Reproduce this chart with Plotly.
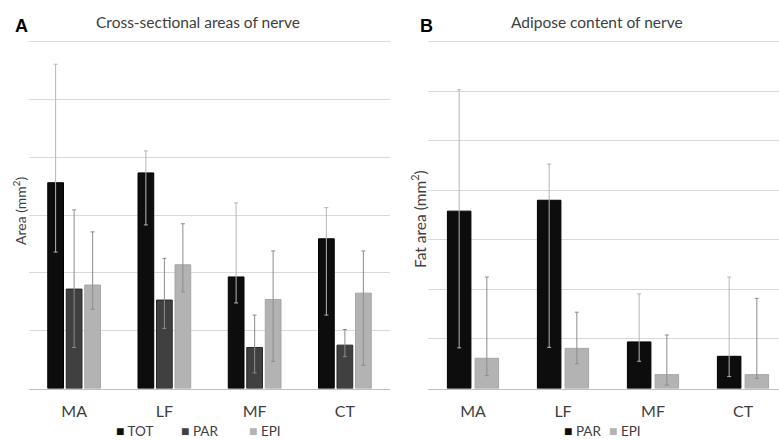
import plotly.graph_objects as go

categories = ["MA", "LF", "MF", "CT"]

# Panel A: cross-sectional areas (grid units, no tick labels shown)
a_tot = [3.56, 3.73, 1.93, 2.59]
a_tot_plus = [2.05, 0.38, 1.28, 0.54]
a_tot_minus = [1.20, 0.90, 0.45, 1.32]
a_par = [1.72, 1.53, 0.71, 0.75]
a_par_plus = [1.37, 0.72, 0.56, 0.27]
a_par_minus = [1.01, 0.49, 0.44, 0.20]
a_epi = [1.79, 2.14, 1.54, 1.65]
a_epi_plus = [0.92, 0.71, 0.84, 0.73]
a_epi_minus = [0.42, 0.47, 1.07, 1.25]

# Panel B: adipose content
b_par = [3.58, 3.80, 0.94, 0.65]
b_par_plus = [2.45, 0.73, 0.97, 1.60]
b_par_minus = [2.76, 2.97, 0.39, 0.41]
b_epi = [0.61, 0.81, 0.28, 0.28]
b_epi_plus = [1.64, 0.73, 0.80, 1.54]
b_epi_minus = [0.35, 0.31, 0.21, 0.08]

series_a = ["TOT", "PAR", "EPI"]
series_b = ["PAR", "EPI"]

C_TOT = "#0d0d0d"
C_PAR = "#404040"
C_EPI = "#b3b3b3"
FONT = "Lato"
TXT = "#404040"

W, H = 779, 440


def err(plus, minus, color):
    return dict(type="data", symmetric=False, array=plus, arrayminus=minus,
                color=color, thickness=1, width=2)


fig = go.Figure()

fig.add_trace(go.Bar(x=categories, y=a_tot, name=series_a[0], xaxis="x", yaxis="y",
                     marker=dict(color=C_TOT, line=dict(color="#000000", width=1)),
                     error_y=err(a_tot_plus, a_tot_minus, "#b5b5b5")))
fig.add_trace(go.Bar(x=categories, y=a_par, name=series_a[1], xaxis="x", yaxis="y",
                     marker=dict(color=C_PAR, line=dict(color="#262626", width=1)),
                     error_y=err(a_par_plus, a_par_minus, "#8c8c8c")))
fig.add_trace(go.Bar(x=categories, y=a_epi, name=series_a[2], xaxis="x", yaxis="y",
                     marker=dict(color=C_EPI, line=dict(color="#a6a6a6", width=1)),
                     error_y=err(a_epi_plus, a_epi_minus, "#8c8c8c")))

fig.add_trace(go.Bar(x=categories, y=b_par, name=series_b[0], xaxis="x2", yaxis="y2",
                     marker=dict(color=C_TOT, line=dict(color="#000000", width=1)),
                     error_y=err(b_par_plus, b_par_minus, "#b5b5b5")))
fig.add_trace(go.Bar(x=categories, y=b_epi, name=series_b[1], xaxis="x2", yaxis="y2",
                     marker=dict(color=C_EPI, line=dict(color="#a6a6a6", width=1)),
                     error_y=err(b_epi_plus, b_epi_minus, "#8c8c8c")))

# plot areas: baseline at 388.5 px, top gridline at 41.7 px (extra 3 px headroom
# so the top gridline is not clipped at the plot edge)
BASE, TOP, EXTRA = 388.5, 41.7, 3.0
unit_a = (BASE - TOP) / 6
unit_b = (BASE - TOP) / 7
ydom = [1 - BASE / H, 1 - (TOP - EXTRA) / H]

xcommon = dict(type="category", showgrid=False, showline=True, linecolor="#bfbfbf",
               linewidth=1, ticks="", tickfont=dict(family=FONT, size=16, color="#404040"),
               ticklabelstandoff=8, fixedrange=True, automargin=False)
ycommon = dict(showgrid=True, gridcolor="#d9d9d9", gridwidth=1, showticklabels=False,
               ticks="", zeroline=False, tick0=0, dtick=1, fixedrange=True, automargin=False)

annotations = [
    dict(text="<b>A</b>", x=13 / W, y=1 - 26 / H, xanchor="left",
         font=dict(family="Liberation Sans", size=18, color="#000000")),
    dict(text="Cross-sectional areas of nerve", x=198 / W, y=1 - 22 / H, xanchor="center",
         font=dict(family=FONT, size=15.5, color=TXT)),
    dict(text="<b>B</b>", x=418 / W, y=1 - 26 / H, xanchor="left",
         font=dict(family="Liberation Sans", size=18, color="#000000")),
    dict(text="Adipose content of nerve", x=597 / W, y=1 - 22 / H, xanchor="center",
         font=dict(family=FONT, size=15.5, color=TXT)),
    dict(text="Area (mm<sup>2</sup>)", x=20 / W, y=1 - 211 / H, xanchor="center",
         textangle=-90, font=dict(family=FONT, size=14, color=TXT)),
    dict(text="Fat area (mm<sup>2</sup>)", x=418 / W, y=1 - 219 / H, xanchor="center",
         textangle=-90, font=dict(family=FONT, size=15.5, color=TXT)),
]

# legend entries (swatch glyph + series name)
LEG_Y = 430
legend_a_x = [114, 179, 247]
legend_a_col = [C_TOT, C_PAR, C_EPI]
for name, xpx, col in zip(series_a, legend_a_x, legend_a_col):
    annotations.append(dict(
        text=f"<span style='color:{col};font-size:14px'>■</span> {name}", x=xpx / W,
        y=1 - LEG_Y / H, xanchor="left", font=dict(family=FONT, size=13.5, color=TXT)))
legend_b_x = [562, 607]
legend_b_col = [C_TOT, C_EPI]
for name, xpx, col in zip(series_b, legend_b_x, legend_b_col):
    annotations.append(dict(
        text=f"<span style='color:{col};font-size:14px'>■</span> {name}", x=xpx / W,
        y=1 - LEG_Y / H, xanchor="left", font=dict(family=FONT, size=13.5, color=TXT)))

for a in annotations:
    a.update(xref="paper", yref="paper", yanchor="middle", showarrow=False)

fig.update_layout(
    width=W, height=H,
    margin=dict(l=0, r=0, t=0, b=0, pad=0),
    paper_bgcolor="white", plot_bgcolor="white",
    barmode="group",
    showlegend=False,
    font=dict(family=FONT, color=TXT),
    xaxis=dict(domain=[29 / W, 390 / W], range=[-0.5, 3.5], anchor="y", **xcommon),
    yaxis=dict(domain=ydom, range=[0, 6 + EXTRA / unit_a], anchor="x", **ycommon),
    xaxis2=dict(domain=[428 / W, 1], range=[-0.5, 3.4], anchor="y2", **xcommon),
    yaxis2=dict(domain=ydom, range=[0, 7 + EXTRA / unit_b], anchor="x2", **ycommon),
    bargap=0.385, bargroupgap=0.15,
    annotations=annotations,
)

fig.write_html(
    "out.html",
    config={"displayModeBar": False},
    post_script="document.body.style.margin='0';document.body.style.overflow='hidden';",
)
